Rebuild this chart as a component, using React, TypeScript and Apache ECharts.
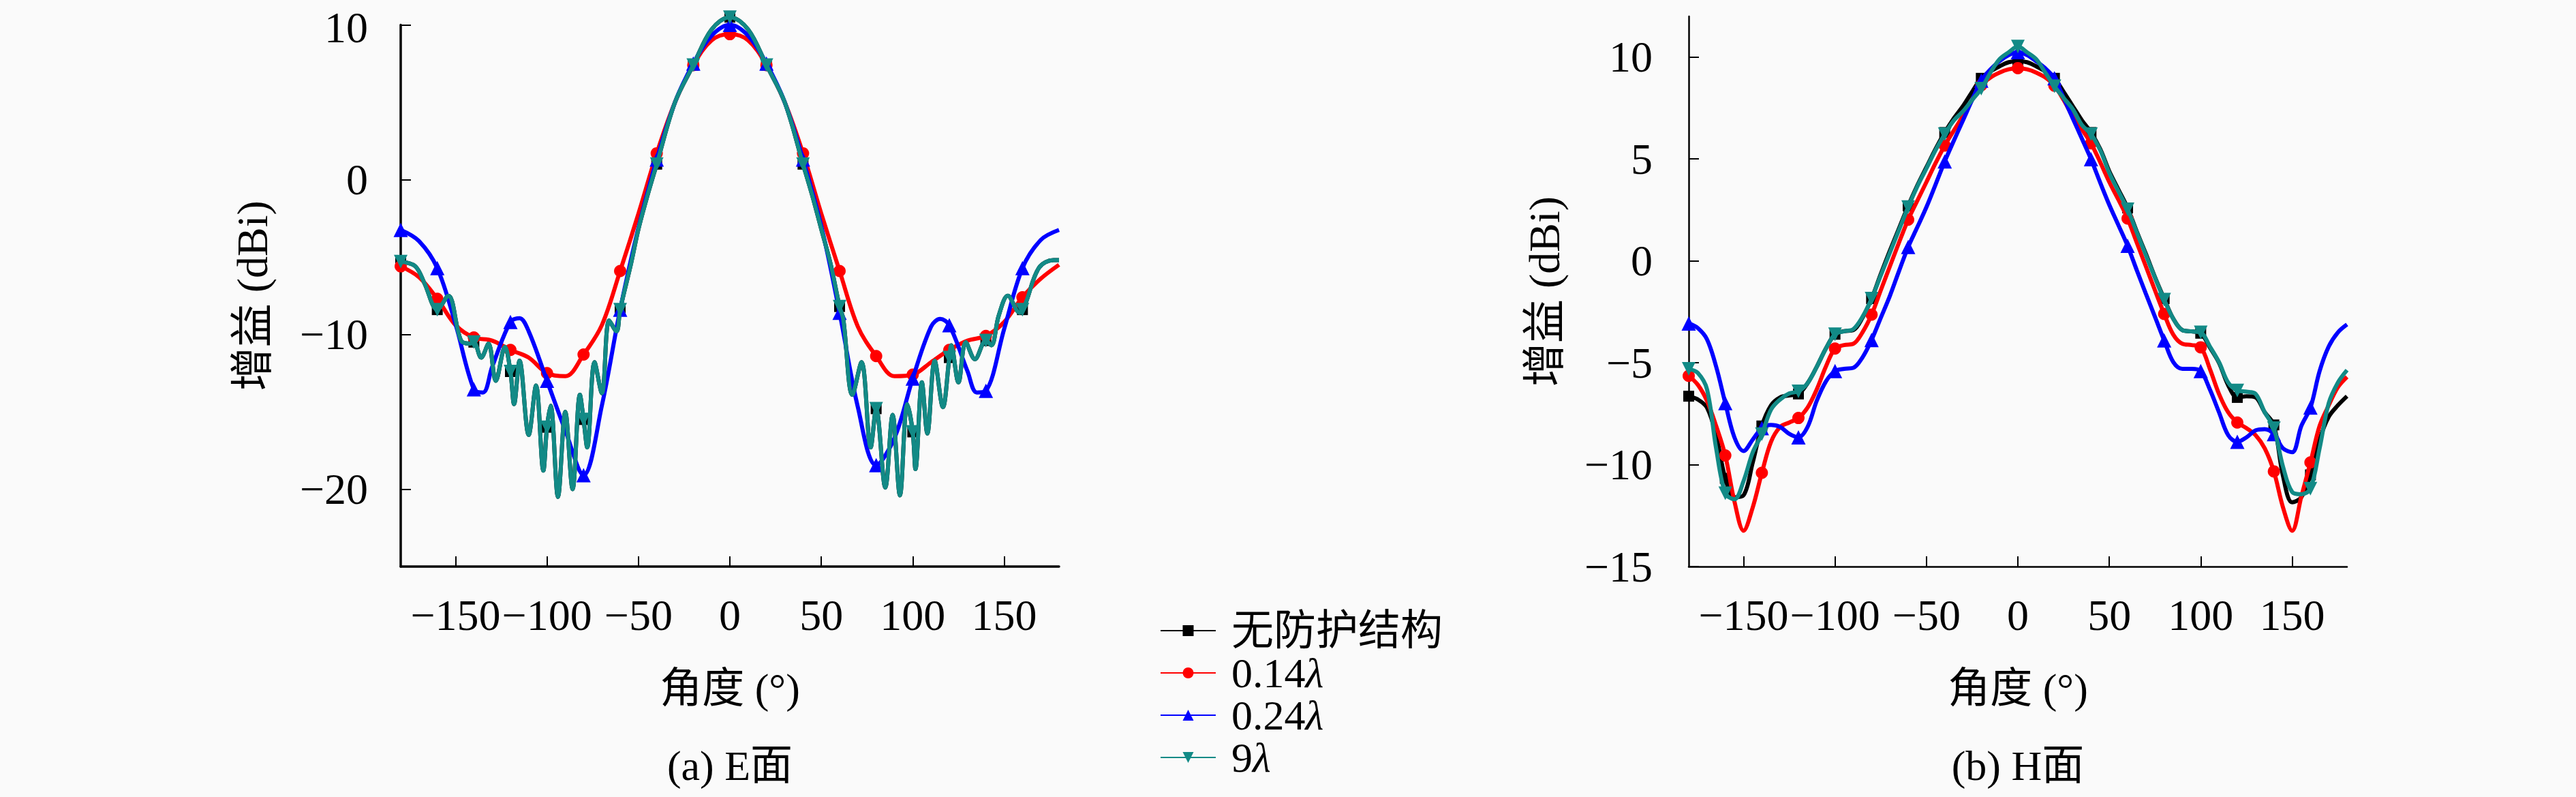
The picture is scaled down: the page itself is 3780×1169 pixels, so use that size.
import React, { useEffect, useRef } from 'react';
import * as echarts from 'echarts';

// ---------- tick labels / names ----------
const xTicks = [-150, -100, -50, 0, 50, 100, 150];
const eTicks = [-20, -10, 0, 10];
const hTicks = [-15, -10, -5, 0, 5, 10];
const seriesNames = ['无防护结构', '0.14λ', '0.24λ', '9λ'];
const markerAngles = [-180, -160, -140, -120, -100, -80, -60, -40, -20, 0, 20, 40, 60, 80, 100, 120, 140, 160];

// ---------- (a) E plane ----------
const eRedX = [-180, -170, -160, -150, -140, -130, -120, -110, -100, -90, -80, -70, -60, -50, -40, -30, -20, -10, 0, 10, 20, 30, 40, 50, 60, 70, 80, 90, 100, 110, 120, 130, 140, 150, 160, 170, 180];
const eRedY = [-5.6, -6.3, -7.7, -9.4, -10.2, -10.4, -11.0, -11.5, -12.5, -12.7, -11.3, -9.4, -5.9, -2.2, 1.7, 5.0, 7.4, 9.0, 9.4, 9.0, 7.4, 5.0, 1.7, -2.2, -5.9, -9.5, -11.4, -12.7, -12.6, -11.8, -11.0, -10.4, -10.1, -9.2, -7.6, -6.4, -5.5];

const eBlueX = [-180, -170, -160, -150, -140, -135, -130, -120, -115, -110, -100, -90, -80, -70, -60, -50, -40, -30, -20, -10, 0, 10, 20, 30, 40, 50, 60, 70, 80, 90, 100, 110, 115, 120, 130, 135, 140, 150, 160, 170, 180];
const eBlueY = [-3.25, -3.97, -5.72, -9.35, -13.55, -13.75, -12.1, -9.2, -8.95, -9.8, -13.0, -16.2, -19.1, -14.6, -8.4, -3.1, 1.3, 5.0, 7.5, 9.3, 10.0, 9.3, 7.5, 5.0, 1.3, -3.0, -8.6, -14.7, -18.45, -16.7, -12.85, -9.5, -9.0, -9.4, -12.4, -13.75, -13.65, -9.65, -5.72, -3.9, -3.25];

const eTealX = [-180, -172, -167, -160, -154, -147, -142, -140, -136, -132, -128, -123, -120, -118, -115, -110, -106, -102, -100, -98, -94, -90, -86, -82, -80, -78, -74, -70, -66, -62, -60, -54, -50, -45, -40, -30, -20, -10, 0, 10, 20, 30, 40, 45, 50, 55, 60, 62, 67, 72, 77, 80, 85, 89, 93, 97, 100, 101.5, 105, 108, 112, 116.5, 120, 121, 125, 129, 134, 140, 143, 147, 152, 158.5, 160, 162, 169, 177, 180];
const eTealY = [-5.3, -5.6, -6.7, -8.4, -7.5, -10.4, -10.6, -10.5, -11.5, -10.6, -13.0, -10.8, -12.4, -14.5, -11.7, -16.5, -13.3, -18.8, -16.0, -14.6, -20.5, -15.0, -20.0, -13.9, -15.5, -17.3, -11.8, -13.8, -9.1, -9.8, -8.4, -5.4, -3.2, -1.0, 1.0, 5.0, 7.4, 9.7, 10.5, 9.7, 7.4, 5.0, 1.0, -1.0, -3.2, -5.4, -8.2, -9.0, -13.9, -11.8, -17.3, -14.8, -19.9, -15.2, -20.4, -14.5, -16.3, -18.7, -13.1, -16.4, -11.7, -14.7, -11.5, -10.7, -13.1, -10.5, -11.6, -10.4, -10.7, -8.8, -7.5, -8.6, -8.4, -7.9, -5.7, -5.2, -5.2];

// ---------- (b) H plane ----------
const hAngles = [-180, -175, -170, -165, -160, -155, -150, -145, -140, -135, -130, -125, -120, -115, -110, -105, -100, -95, -90, -85, -80, -75, -70, -65, -60, -55, -50, -45, -40, -35, -30, -25, -20, -15, -10, -5, 0, 5, 10, 15, 20, 25, 30, 35, 40, 45, 50, 55, 60, 65, 70, 75, 80, 85, 90, 95, 100, 105, 110, 115, 120, 125, 130, 135, 140, 145, 150, 155, 160, 165, 170, 175, 180];
const hBlack = [-6.64, -6.8, -7.2, -8.55, -10.67, -11.6, -11.5, -9.9, -8.1, -7.09, -6.7, -6.6, -6.53, -6.0, -5.2, -4.3, -3.6, -3.45, -3.4, -2.8, -1.85, -0.65, 0.5, 1.6, 2.7, 3.7, 4.6, 5.5, 6.3, 7.0, 7.6, 8.3, 8.96, 9.3, 9.55, 9.75, 9.8, 9.75, 9.55, 9.3, 8.96, 8.3, 7.6, 6.9, 6.3, 5.5, 4.4, 3.5, 2.6, 1.45, 0.35, -0.8, -1.85, -2.84, -3.4, -3.46, -3.55, -4.25, -5.0, -6.1, -6.7, -6.64, -6.7, -7.43, -8.05, -10.56, -11.85, -11.6, -10.5, -8.77, -7.65, -7.09, -6.64];
const hRed = [-5.64, -6.08, -6.87, -8.1, -9.55, -11.8, -13.24, -12.1, -10.4, -8.88, -8.15, -7.93, -7.71, -7.2, -6.31, -5.19, -4.3, -4.13, -4.07, -3.51, -2.64, -1.45, -0.27, 0.9, 2.02, 2.95, 3.87, 4.8, 5.66, 6.4, 7.12, 7.9, 8.62, 9.0, 9.24, 9.4, 9.46, 9.4, 9.24, 9.0, 8.6, 7.9, 7.1, 6.45, 5.77, 4.85, 3.87, 3.0, 2.08, 0.9, -0.27, -1.45, -2.6, -3.62, -4.07, -4.13, -4.24, -5.3, -6.53, -7.43, -7.93, -8.21, -8.55, -9.2, -10.33, -12.1, -13.24, -11.57, -9.89, -8.1, -7.09, -6.2, -5.69];
const hBlue = [-3.07, -3.3, -3.85, -5.19, -6.98, -8.66, -9.33, -8.77, -8.21, -8.05, -8.15, -8.49, -8.66, -8.15, -6.87, -5.92, -5.41, -5.3, -5.25, -4.74, -3.88, -2.8, -1.72, -0.5, 0.68, 1.65, 2.64, 3.75, 4.88, 5.9, 6.9, 7.9, 8.85, 9.4, 9.8, 10.1, 10.24, 10.1, 9.8, 9.45, 8.96, 8.0, 7.0, 6.0, 4.99, 3.85, 2.75, 1.75, 0.74, -0.45, -1.61, -2.75, -3.9, -4.97, -5.3, -5.3, -5.41, -6.31, -7.43, -8.55, -8.88, -8.66, -8.32, -8.26, -8.5, -9.2, -9.39, -8.1, -7.2, -5.41, -4.2, -3.51, -3.12];
const hTeal = [-5.3, -5.5, -6.3, -9.2, -11.4, -11.7, -10.8, -9.4, -8.5, -7.3, -6.8, -6.5, -6.4, -6.0, -5.2, -4.3, -3.6, -3.45, -3.35, -2.75, -1.85, -0.72, 0.4, 1.52, 2.64, 3.65, 4.54, 5.44, 6.22, 6.89, 7.34, 7.9, 8.45, 9.24, 9.9, 10.24, 10.52, 10.24, 9.9, 9.24, 8.57, 8.0, 7.45, 6.67, 6.22, 5.44, 4.32, 3.42, 2.53, 1.41, 0.29, -0.83, -1.9, -2.84, -3.4, -3.46, -3.51, -4.2, -4.97, -5.97, -6.36, -6.42, -6.53, -7.43, -8.21, -10.1, -11.34, -11.45, -11.18, -9.2, -6.98, -5.97, -5.36];

const SERIF = '"Liberation Serif", "DejaVu Serif", "Noto Sans CJK SC", serif';
const BG = '#fafafa';
const COLORS = ['#000000', '#ff0000', '#0000ff', '#128a86'];
const SYMBOLS = ['rect', 'circle', 'triangle', 'triangle'];
const SYMBOL_SIZES = [16, 18, 21, 20];
const ROTATES = [0, 0, 0, 180];

function buildData(xs: number[], ys: number[]) {
  return xs.map((x, i) =>
    markerAngles.indexOf(x) >= 0 ? { value: [x, ys[i]] } : { value: [x, ys[i]], symbol: 'none' }
  );
}

function makeSeries(idx: number, xs: number[], ys: number[], gi: number) {
  return {
    type: 'line',
    name: seriesNames[idx],
    xAxisIndex: gi,
    yAxisIndex: gi,
    data: buildData(xs, ys),
    smooth: 0.35,
    symbol: SYMBOLS[idx],
    symbolSize: SYMBOL_SIZES[idx],
    symbolRotate: ROTATES[idx],
    showSymbol: true,
    clip: false,
    z: 2 + idx,
    lineStyle: { color: COLORS[idx], width: 6 },
    itemStyle: { color: COLORS[idx] },
    emphasis: { disabled: true },
  };
}

const fmt = (v: number) => String(v).replace('-', '\u2212');

function xAxisCfg(gi: number, lw: number) {
  return {
    type: 'value',
    gridIndex: gi,
    min: -180,
    max: 180,
    name: '角度 (°)',
    nameLocation: 'middle',
    nameGap: 147,
    nameTextStyle: { fontFamily: SERIF, fontSize: 62, color: '#000', lineHeight: 64 },
    axisLine: { show: true, onZero: false, lineStyle: { color: '#000', width: lw } },
    axisTick: { show: true, inside: true, length: 15, customValues: xTicks, lineStyle: { color: '#000', width: 2 } },
    axisLabel: { customValues: xTicks, formatter: fmt, fontFamily: SERIF, fontSize: 64, color: '#000', margin: 39, lineHeight: 64 },
    splitLine: { show: false },
  };
}

function yAxisCfg(gi: number, min: number, max: number, ticks: number[], lw: number, nameGap: number, margin: number, topPad: boolean) {
  return {
    type: 'value',
    gridIndex: gi,
    min,
    max,
    name: '增益 (dBi)',
    nameLocation: 'middle',
    nameGap,
    nameRotate: 90,
    nameTextStyle: { fontFamily: SERIF, fontSize: 64, color: '#000', lineHeight: 64 },
    axisLine: { show: true, onZero: false, lineStyle: { color: '#000', width: lw } },
    axisTick: { show: true, inside: true, length: 15, customValues: ticks, lineStyle: { color: '#000', width: 2 } },
    axisLabel: {
      customValues: ticks,
      formatter: (v: number) => (topPad && v === max ? `{t|${fmt(v)}}` : fmt(v)),
      fontFamily: SERIF,
      fontSize: 64,
      color: '#000',
      margin,
      lineHeight: 48,
      rich: { t: { fontFamily: SERIF, fontSize: 64, color: '#000', lineHeight: 48, padding: [9, 0, 0, 0] } },
    },
    splitLine: { show: false },
  };
}

export default function App() {
  const ref = useRef<HTMLDivElement>(null);
  useEffect(() => {
    document.body.style.margin = '0';
    document.body.style.background = BG;
    if (!ref.current) return;
    const chart = echarts.init(ref.current, undefined, { renderer: 'svg' });
    const option: any = {
      animation: false,
      backgroundColor: BG,
      grid: [
        { left: 588, top: 30, width: 966, height: 801, containLabel: false },
        { left: 2478, top: 24, width: 966, height: 807, containLabel: false },
      ],
      xAxis: [xAxisCfg(0, 3.5), xAxisCfg(1, 2.5)],
      yAxis: [
        yAxisCfg(0, -25, 10, eTicks, 3.5, 186, 48, true),
        yAxisCfg(1, -15, 12, hTicks, 2.5, 180, 53, false),
      ],
      legend: {
        orient: 'vertical',
        left: 1702,
        top: 894,
        height: 420,
        padding: 0,
        itemWidth: 81,
        itemHeight: 20,
        itemGap: 0,
        data: seriesNames,
        selectedMode: false,
        formatter: (name: string) =>
          name.endsWith('λ') ? `{n|${name.slice(0, -1)}}{l|λ}` : `{n|${name}}`,
        textStyle: {
          padding: [0, 0, 0, 18],
          lineHeight: 50,
          rich: {
            n: { fontFamily: SERIF, fontSize: 62, color: '#000', lineHeight: 50 },
            l: { fontFamily: SERIF, fontSize: 62, color: '#000', fontStyle: 'italic', lineHeight: 50 },
          },
        },
      },
      graphic: [
        { type: 'text', x: 1071, y: 1123, style: { text: '(a) E面', fontFamily: SERIF, fontSize: 62, fill: '#000', textAlign: 'center', textVerticalAlign: 'middle' } },
        { type: 'text', x: 2961, y: 1123, style: { text: '(b) H面', fontFamily: SERIF, fontSize: 62, fill: '#000', textAlign: 'center', textVerticalAlign: 'middle' } },
      ],
      series: [
        makeSeries(0, eTealX, eTealY, 0),
        makeSeries(1, eRedX, eRedY, 0),
        makeSeries(2, eBlueX, eBlueY, 0),
        makeSeries(3, eTealX, eTealY, 0),
        makeSeries(0, hAngles, hBlack, 1),
        makeSeries(1, hAngles, hRed, 1),
        makeSeries(2, hAngles, hBlue, 1),
        makeSeries(3, hAngles, hTeal, 1),
      ],
    };
    chart.setOption(option);
    return () => chart.dispose();
  }, []);
  return <div ref={ref} style={{ position: 'fixed', left: 0, top: 0, width: 3780, height: 1169, background: BG }} />;
}
